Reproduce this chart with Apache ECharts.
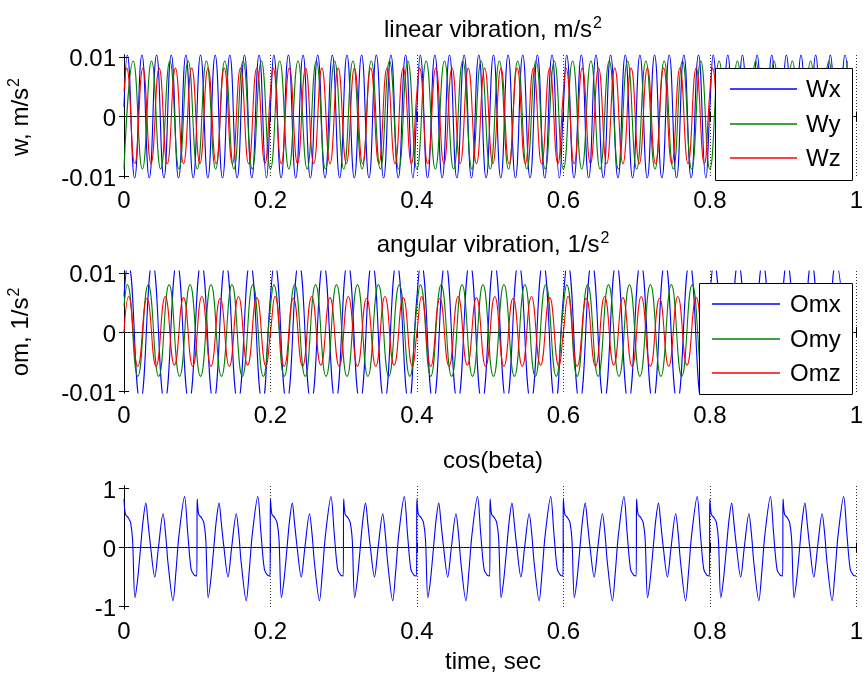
<!DOCTYPE html>
<html><head><meta charset="utf-8">
<script src="https://cdn.jsdelivr.net/npm/echarts@6/dist/echarts.min.js"></script>
<style>html,body{margin:0;padding:0;background:#fff}#c{width:866px;height:680px}</style>
</head><body><div id="c"></div>
<script>
// ---- tick labels ----
const xTicks = [0, 0.2, 0.4, 0.6, 0.8, 1];
const vibYTicks = [-0.01, 0, 0.01];
const cosYTicks = [-1, 0, 1];

// The reference repeats the same pattern every 0.2 s (vibrations) and every 0.1 s (cos(beta)).
const vibPeriod = 0.2;
const cosPeriod = 0.1;

// ---- one period of each signal (start, peaks and troughs): time (s), value ----
const wxT = [0, 0.0045, 0.0145, 0.0245, 0.0345, 0.0445, 0.0545, 0.0645, 0.0745, 0.0845, 0.0945, 0.1045, 0.1145, 0.1245, 0.1345, 0.1445, 0.1545, 0.1645, 0.1745, 0.1845, 0.1945];
const wxV = [0.0016, 0.0103, -0.0103, 0.0103, -0.0103, 0.0103, -0.0103, 0.0103, -0.0103, 0.0103, -0.0103, 0.0103, -0.0103, 0.0103, -0.0103, 0.0103, -0.0103, 0.0103, -0.0103, 0.0103, -0.0103];
const wyT = [0, 0.0126, 0.0251, 0.0376, 0.0501, 0.0626, 0.0751, 0.0876, 0.1001, 0.1126, 0.1251, 0.1376, 0.1501, 0.1626, 0.1751, 0.1876];
const wyV = [-0.0088, 0.0093, -0.0088, 0.0093, -0.0088, 0.0093, -0.0088, 0.0093, -0.0088, 0.0093, -0.0088, 0.0093, -0.0088, 0.0093, -0.0088, 0.0093];
const wzT = [0, 0.0036, 0.0147, 0.0258, 0.0369, 0.0480, 0.0591, 0.0702, 0.0813, 0.0925, 0.1036, 0.1147, 0.1258, 0.1369, 0.1480, 0.1591, 0.1702, 0.1813, 0.1924];
const wzV = [0.0042, 0.0081, -0.0079, 0.0081, -0.0079, 0.0081, -0.0079, 0.0081, -0.0079, 0.0081, -0.0079, 0.0081, -0.0079, 0.0081, -0.0079, 0.0081, -0.0079, 0.0081, -0.0079];

const omxT = [0, 0.0055, 0.0222, 0.0388, 0.0555, 0.0722, 0.0888, 0.1055, 0.1222, 0.1388, 0.1555, 0.1722, 0.1888];
const omxV = [0.006, 0.0118, -0.0118, 0.0118, -0.0118, 0.0118, -0.0118, 0.0118, -0.0118, 0.0118, -0.0118, 0.0118, -0.0118];
const omyT = [0, 0.0045, 0.0188, 0.0331, 0.0474, 0.0616, 0.0759, 0.0902, 0.1045, 0.1188, 0.1331, 0.1474, 0.1616, 0.1759, 0.1902];
const omyV = [0.0044, 0.0080, -0.0075, 0.0080, -0.0075, 0.0080, -0.0075, 0.0080, -0.0075, 0.0080, -0.0075, 0.0080, -0.0075, 0.0080, -0.0075];
const omzT = [0, 0.0063, 0.0188, 0.0313, 0.0438, 0.0563, 0.0688, 0.0813, 0.0938, 0.1063, 0.1188, 0.1313, 0.1438, 0.1563, 0.1688, 0.1813, 0.1938];
const omzV = [0, 0.0060, -0.0058, 0.0057, -0.0058, 0.0060, -0.0056, 0.0058, -0.0058, 0.0060, -0.0058, 0.0057, -0.0058, 0.0060, -0.0056, 0.0058, -0.0058];

const cbT = [0, 0.002, 0.006, 0.009, 0.0117, 0.0149, 0.0185, 0.0223, 0.026, 0.0298, 0.033, 0.036, 0.042, 0.047, 0.0533, 0.057, 0.060, 0.0669, 0.071, 0.075, 0.0827, 0.087, 0.0917, 0.0962, 0.0994];
const cbV = [0.82, 0.56, 0.50, 0.42, 0.13, -0.85, -0.55, -0.05, 0.45, 0.75, 0.40, 0.05, -0.50, 0.0, 0.57, 0.20, -0.25, -0.90, -0.40, 0.20, 0.86, 0.25, -0.37, -0.47, -0.48];

// legend entries
const legendTop = ['Wx', 'Wy', 'Wz'];
const legendMid = ['Omx', 'Omy', 'Omz'];

function tile(T, V, period) {
  const out = [];
  for (let k = 0; k * period < 1 - 1e-9; k++) {
    for (let i = 0; i < T.length; i++) {
      const t = T[i] + k * period;
      if (t <= 1 + 1e-9) out.push([t, V[i]]);
    }
  }
  return out;
}

const FONT = 'Liberation Sans, Arial, sans-serif';
const FS = 24;
const plotLeft = 124, plotW = 738;
const grids = [
  {left: plotLeft, width: plotW, top: 55, height: 123},
  {left: plotLeft, width: plotW, top: 271, height: 122},
  {left: plotLeft, width: plotW, top: 486, height: 123}
];
const yRange = [0.0103, 0.0103, 1.04];
const yTickSets = [vibYTicks, vibYTicks, cosYTicks];

const xAxes = [], yAxes = [];
grids.forEach((g, i) => {
  const lineSt = {show: true, lineStyle: {color: '#000', width: 1}};
  xAxes.push({type: 'value', gridIndex: i, min: 0, max: 1, interval: 0.2, position: 'bottom',
    axisLine: lineSt, axisTick: {show: true, inside: true, length: 5, lineStyle: {color: '#000'}},
    axisLabel: {show: true, color: '#000', fontFamily: FONT, fontSize: FS, margin: 11,
      formatter: v => (xTicks.indexOf(+v.toFixed(1)) >= 0 ? String(+v.toFixed(1)) : '')},
    splitLine: {show: true, lineStyle: {color: '#333', type: [1, 2], width: 1}}});
  xAxes.push({type: 'value', gridIndex: i, min: 0, max: 1, interval: 0.2, position: 'top',
    axisLine: lineSt, axisTick: {show: true, inside: true, length: 5, lineStyle: {color: '#000'}},
    axisLabel: {show: false}, splitLine: {show: false}});
  yAxes.push({type: 'value', gridIndex: i, min: -yRange[i], max: yRange[i], position: 'left',
    axisLine: lineSt,
    axisTick: {show: true, inside: true, length: 5, customValues: yTickSets[i], lineStyle: {color: '#000'}},
    axisLabel: {show: true, color: '#000', fontFamily: FONT, fontSize: FS, margin: 8, customValues: yTickSets[i],
      verticalAlign: 'top', lineHeight: 6, formatter: v => String(+v.toFixed(4))},
    splitLine: {show: false}});
  yAxes.push({type: 'value', gridIndex: i, min: -yRange[i], max: yRange[i], position: 'right',
    axisLine: lineSt,
    axisTick: {show: true, inside: true, length: 5, customValues: yTickSets[i], lineStyle: {color: '#000'}},
    axisLabel: {show: false}, splitLine: {show: false}});
});

function lineSeries(name, data, color, gi, smooth, extra) {
  return Object.assign({
    name, type: 'line', data, xAxisIndex: gi * 2, yAxisIndex: gi * 2,
    showSymbol: false, symbol: 'none', smooth: smooth,
    lineStyle: {color, width: 1.1}, itemStyle: {color}, clip: true, animation: false, z: 2
  }, extra || {});
}
const zeroLine = {markLine: {silent: true, symbol: ['none', 'none'], label: {show: false},
  lineStyle: {color: '#333', type: [1, 2], width: 1}, data: [{yAxis: 0}], animation: false}};

const COLORS = ['#0000ff', '#008000', '#ff0000'];
const series = [
  lineSeries(legendTop[0], tile(wxT, wxV, vibPeriod), COLORS[0], 0, 0.5, zeroLine),
  lineSeries(legendTop[1], tile(wyT, wyV, vibPeriod), COLORS[1], 0, 0.5),
  lineSeries(legendTop[2], tile(wzT, wzV, vibPeriod), COLORS[2], 0, 0.5),
  lineSeries(legendMid[0], tile(omxT, omxV, vibPeriod), COLORS[0], 1, 0.5, zeroLine),
  lineSeries(legendMid[1], tile(omyT, omyV, vibPeriod), COLORS[1], 1, 0.5),
  lineSeries(legendMid[2], tile(omzT, omzV, vibPeriod), COLORS[2], 1, 0.5),
  lineSeries('cos(beta)', tile(cbT, cbV, cosPeriod), COLORS[0], 2, 0.3, zeroLine)
];

// ---- legend boxes (MATLAB style) drawn as graphics ----
function legendBox(names, box, lineX0, lineX1, textX, rowY) {
  const els = [{type: 'rect', shape: {x: box[0] + 0.5, y: box[1] + 0.5, width: box[2], height: box[3]},
    style: {fill: '#fff', stroke: '#000', lineWidth: 1}, z: 100, silent: true}];
  names.forEach((n, i) => {
    const y = rowY[i];
    els.push({type: 'line', shape: {x1: lineX0, y1: y, x2: lineX1, y2: y},
      style: {stroke: COLORS[i], lineWidth: 1.5}, z: 101, silent: true});
    els.push({type: 'text', x: textX, y: rowY[i] + 1, z: 101, silent: true,
      style: {text: n, fill: '#000', font: FS + 'px ' + FONT, align: 'left', verticalAlign: 'middle'}});
  });
  return els;
}

const rich = {a: {fontFamily: FONT, fontSize: FS, color: '#000'}, s: {fontFamily: FONT, fontSize: 16, color: '#000', verticalAlign: 'bottom', padding: [0, 0, 13, 1]}};
function txt(x, y, text, rot) {
  return {type: 'text', x, y, rotation: rot || 0, silent: true,
    style: {text, rich, align: 'center', verticalAlign: 'middle', fill: '#000', font: FS + 'px ' + FONT}};
}
const graphics = [
  txt(493, 30, '{a|linear vibration, m/s}{s|2}'),
  txt(493, 245, '{a|angular vibration, 1/s}{s|2}'),
  txt(493, 461, '{a|cos(beta)}'),
  txt(493, 662, '{a|time, sec}'),
  txt(21, 117, '{a|w, m/s}{s|2}', Math.PI / 2),
  txt(21, 332, '{a|om, 1/s}{s|2}', Math.PI / 2)
].concat(
  legendBox(legendTop, [715, 68, 137, 112], 730, 797, 806, [89, 124, 158]),
  legendBox(legendMid, [699, 283, 153, 111], 712, 780, 790, [304, 339, 373])
);

const chart = echarts.init(document.getElementById('c'), null, {renderer: 'canvas'});
chart.setOption({
  animation: false,
  backgroundColor: '#fff',
  grid: grids,
  xAxis: xAxes,
  yAxis: yAxes,
  series,
  graphic: graphics
});
</script></body></html>
